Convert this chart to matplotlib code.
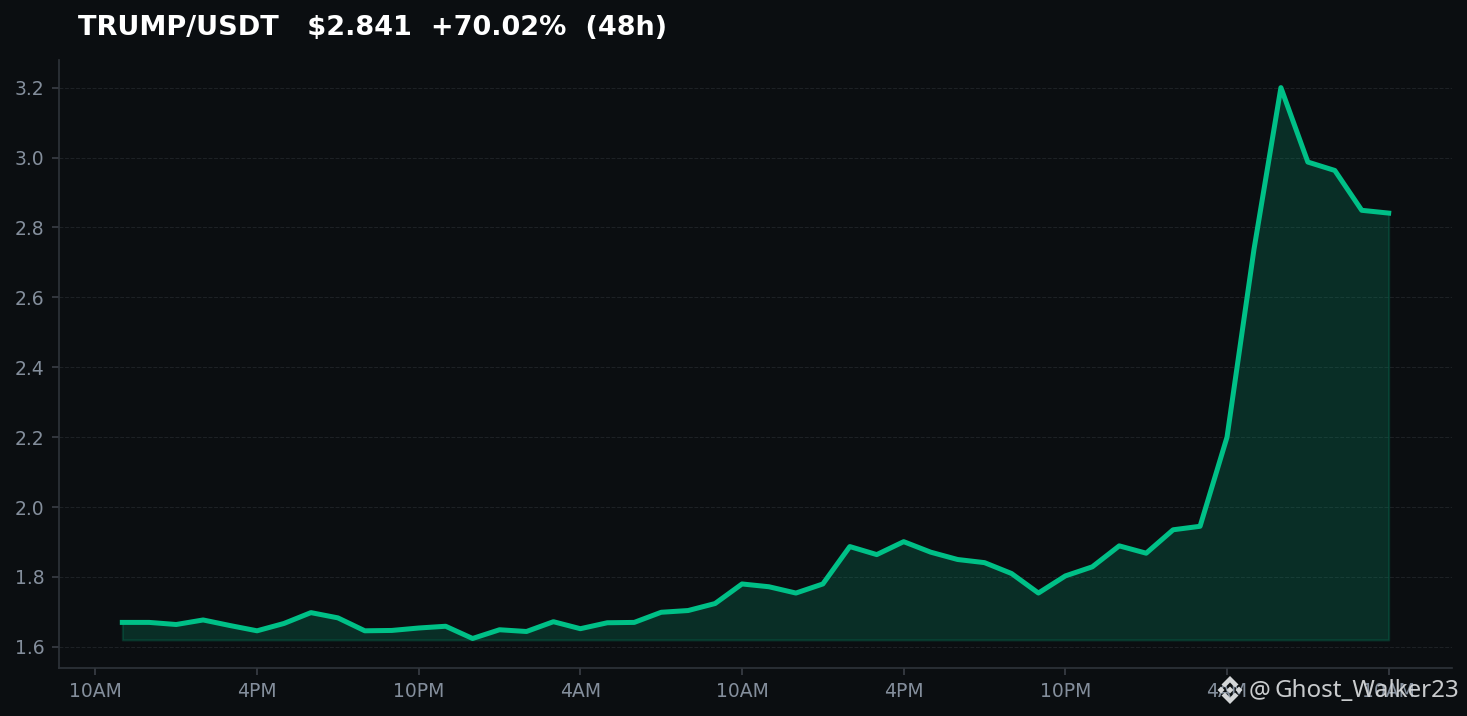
import matplotlib
matplotlib.use("Agg")
import matplotlib.pyplot as plt
from matplotlib.patches import Polygon

W, H = 1467, 716
DPI = 150
BG = '#0b0e11'
GREEN = '#00c087'

hours = list(range(1, 49))
prices = [1.670, 1.670, 1.664, 1.677, 1.661, 1.646, 1.667, 1.698, 1.683, 1.646,
          1.647, 1.654, 1.659, 1.624, 1.649, 1.644, 1.672, 1.652, 1.669, 1.670,
          1.699, 1.704, 1.724, 1.780, 1.772, 1.754, 1.780, 1.887, 1.864, 1.901,
          1.871, 1.850, 1.841, 1.810, 1.754, 1.803, 1.829, 1.889, 1.868, 1.935,
          1.945, 2.200, 2.737, 3.200, 2.987, 2.963, 2.849, 2.841]
baseline = 1.62
tick_hours = [0, 6, 12, 18, 24, 30, 36, 42, 48]
tick_labels = ['10AM', '4PM', '10PM', '4AM', '10AM', '4PM', '10PM', '4AM', '10AM']
y_ticks = [1.6, 1.8, 2.0, 2.2, 2.4, 2.6, 2.8, 3.0, 3.2]

fig = plt.figure(figsize=(W / DPI, H / DPI), dpi=DPI, facecolor=BG)
ax = fig.add_axes([59 / W, 1 - 667.5 / H, (1452 - 59) / W, (667.5 - 60) / H], facecolor=BG)

# Price line and filled area
ax.fill_between(hours, prices, baseline, color=GREEN, alpha=0.18)
ax.plot(hours, prices, color=GREEN, linewidth=2.4)

ax.set_xticks(tick_hours)
ax.set_xticklabels(tick_labels)
ax.set_yticks(y_ticks)
ax.tick_params(colors='#3a3f47', labelcolor='#848e9c', labelsize=9)
ax.grid(axis='y', color='#2a2e34', linestyle='--', linewidth=0.5, alpha=0.6)
ax.set_axisbelow(True)
for side in ['top', 'right']:
    ax.spines[side].set_visible(False)
for side in ['left', 'bottom']:
    ax.spines[side].set_color('#2f343a')

fig.text(78 / W, 1 - 28 / H, 'TRUMP/USDT   $2.841  +70.02%  (48h)', color='white',
         fontsize=13, fontweight='bold', va='center', ha='left')

# Watermark: diamond logo and handle
WM = '#d4d6d8'
cx, cy = 1230, 690
logo = [
    [(0, -3.5), (3.5, 0), (0, 3.5), (-3.5, 0)],
    [(-9, -3.5), (-5.5, 0), (-9, 3.5), (-12.5, 0)],
    [(9, -3.5), (12.5, 0), (9, 3.5), (5.5, 0)],
    [(0, -14), (8.5, -5.5), (5, -2.5), (0, -7.5), (-5, -2.5), (-8.5, -5.5)],
    [(0, 14), (8.5, 5.5), (5, 2.5), (0, 7.5), (-5, 2.5), (-8.5, 5.5)],
]
for shape in logo:
    pts = [(cx + dx, H - (cy + dy)) for dx, dy in shape]
    fig.add_artist(Polygon(pts, closed=True, color=WM, lw=0, transform=None, zorder=5))
fig.text(1249 / W, 1 - 691 / H, '@', color=WM, fontsize=11.6,
         family='Noto Sans', va='center', ha='left', alpha=0.95, zorder=5)
fig.text(1274 / W, 1 - 691 / H, 'Ghost_Walker23', color=WM, fontsize=11.6,
         family='Noto Sans', va='center', ha='left', alpha=0.95, zorder=5)

fig.savefig('out.png', dpi=DPI, facecolor=BG)
